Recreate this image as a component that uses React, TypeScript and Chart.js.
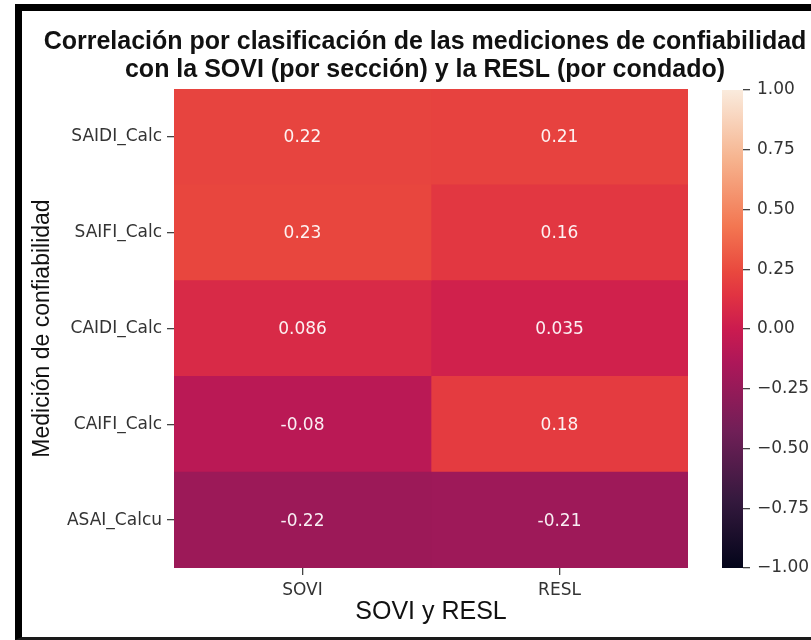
import React, { useEffect, useRef } from "react";
import { Chart, registerables } from "chart.js";

Chart.register(...registerables);

// ---------- data ----------
const titleLines = [
  "Correlación por clasificación de las mediciones de confiabilidad",
  "con la SOVI (por sección) y la RESL (por condado)",
];
const rowLabels = ["SAIDI_Calc", "SAIFI_Calc", "CAIDI_Calc", "CAIFI_Calc", "ASAI_Calcu"];
const colLabels = ["SOVI", "RESL"];
const soviValues = [0.22, 0.23, 0.086, -0.08, -0.22];
const reslValues = [0.21, 0.16, 0.035, 0.18, -0.21];
const xAxisTitle = "SOVI y RESL";
const yAxisTitle = "Medición de confiabilidad";
const colorbarMin = -1;
const colorbarMax = 1;
const colorbarStep = 0.25;

// rocket colormap anchors (position 0..1, hex)
const rocketPos = [0, 0.143, 0.286, 0.429, 0.5, 0.571, 0.62, 0.714, 0.857, 1];
const rocketHex = ["#03051a", "#35193e", "#701f57", "#ad1759", "#cb1b4f", "#e13342", "#e9483e", "#f37651", "#f6b48f", "#faebdd"];

function hexToRgb(h: string) {
  const n = parseInt(h.slice(1), 16);
  return [(n >> 16) & 255, (n >> 8) & 255, n & 255];
}
function rocket(t: number) {
  t = Math.max(0, Math.min(1, t));
  let i = 0;
  while (i < rocketPos.length - 2 && t > rocketPos[i + 1]) i++;
  const f = (t - rocketPos[i]) / (rocketPos[i + 1] - rocketPos[i]);
  const a = hexToRgb(rocketHex[i]);
  const b = hexToRgb(rocketHex[i + 1]);
  const c = a.map((v, k) => Math.round(v + (b[k] - v) * f));
  return `rgb(${c[0]},${c[1]},${c[2]})`;
}
function valueColor(v: number) {
  return rocket((v - colorbarMin) / (colorbarMax - colorbarMin));
}
function fmt2g(v: number) {
  return String(parseFloat(v.toPrecision(2)));
}

const TICK_FONT = { family: "'DejaVu Sans'", size: 17 };
const TICK_COLOR = "#333333";

const annotatePlugin = {
  id: "annotate",
  afterDatasetsDraw(chart: any) {
    const ctx = chart.ctx;
    ctx.save();
    ctx.font = "17px 'DejaVu Sans'";
    ctx.fillStyle = "rgba(255,255,255,0.93)";
    ctx.textAlign = "center";
    ctx.textBaseline = "middle";
    chart.data.datasets.forEach((ds: any, di: number) => {
      const meta = chart.getDatasetMeta(di);
      meta.data.forEach((bar: any, j: number) => {
        const p = bar.getProps(["x", "y", "base"], true);
        ctx.fillText(fmt2g(ds.values[j]), (p.x + p.base) / 2, p.y + 1);
      });
    });
    ctx.restore();
  },
};

export default function App() {
  const mainRef = useRef<HTMLCanvasElement>(null);
  const cbRef = useRef<HTMLCanvasElement>(null);

  useEffect(() => {
    const columns = [soviValues, reslValues];
    const main = new Chart(mainRef.current!, {
      type: "bar",
      data: {
        labels: rowLabels,
        datasets: columns.map((vals, ci) => ({
          label: colLabels[ci],
          values: vals,
          data: vals.map(() => [ci, ci + 1]),
          backgroundColor: vals.map(valueColor),
          borderWidth: 0,
          barPercentage: 1,
          categoryPercentage: 1,
          grouped: false,
        })) as any,
      },
      options: {
        indexAxis: "y",
        animation: false,
        responsive: false,
        events: [],
        layout: { padding: { left: 22, right: 0, top: 11, bottom: 8 } },
        plugins: {
          legend: { display: false },
          tooltip: { enabled: false },
          title: {
            display: true,
            text: titleLines,
            color: "#111111",
            font: { family: "'Liberation Sans', Arial, sans-serif", size: 25, weight: "bold", lineHeight: 1.12 },
            padding: { top: 17, bottom: 5 },
          },
        },
        scales: {
          x: {
            type: "linear",
            position: "bottom",
            min: 0,
            max: colLabels.length,
            afterBuildTicks: (s: any) => {
              s.ticks = colLabels.map((_, i) => ({ value: i + 0.5 }));
            },
            afterFit: (s: any) => {
              s.height = 64;
            },
            ticks: {
              autoSkip: false,
              maxRotation: 0,
              font: TICK_FONT,
              color: TICK_COLOR,
              padding: 5,
              callback: (_v: any, i: number) => colLabels[i],
            },
            grid: { drawOnChartArea: false, drawTicks: true, tickLength: 7, color: "#444444", lineWidth: 1.3 },
            border: { display: false },
            title: {
              display: true,
              text: xAxisTitle,
              color: "#111111",
              font: { family: "'Liberation Sans', Arial, sans-serif", size: 25, lineHeight: 1.2 },
              padding: { top: 0, bottom: 5 },
            },
          },
          y: {
            type: "category",
            position: "left",
            afterFit: (s: any) => {
              s.width = 152;
            },
            ticks: { font: TICK_FONT, color: TICK_COLOR, padding: 5 },
            grid: { drawOnChartArea: false, drawTicks: true, tickLength: 7, offset: false, color: "#444444", lineWidth: 1.3 },
            border: { display: false },
            title: {
              display: true,
              text: yAxisTitle,
              color: "#111111",
              font: { family: "'Liberation Sans', Arial, sans-serif", size: 23, lineHeight: 1.2 },
              padding: { top: 7, bottom: 0 },
            },
          },
          rpad: {
            type: "linear",
            position: "right",
            display: true,
            ticks: { display: false },
            grid: { display: false },
            border: { display: false },
            afterFit: (s: any) => {
              s.width = 140;
            },
          },
        },
      } as any,
      plugins: [annotatePlugin],
    });

    const cb = new Chart(cbRef.current!, {
      type: "bar",
      data: {
        labels: [""],
        datasets: [
          {
            data: [[colorbarMin, colorbarMax]] as any,
            borderWidth: 0,
            barPercentage: 1,
            categoryPercentage: 1,
            backgroundColor: (c: any) => {
              const chart = c.chart;
              const ys = chart.scales.y;
              if (!chart.chartArea || !ys) return "#000";
              const y0 = ys.getPixelForValue(colorbarMin);
              const y1 = ys.getPixelForValue(colorbarMax);
              const g = chart.ctx.createLinearGradient(0, y0, 0, y1);
              rocketPos.forEach((p, i) => g.addColorStop(p, rocketHex[i]));
              return g;
            },
          },
        ],
      },
      options: {
        animation: false,
        responsive: false,
        events: [],
        layout: { padding: { left: 22, right: 0, top: 90, bottom: 72 } },
        plugins: { legend: { display: false }, tooltip: { enabled: false } },
        scales: {
          x: { display: false },
          y: {
            position: "right",
            min: colorbarMin,
            max: colorbarMax,
            afterFit: (s: any) => {
              s.width = 85;
            },
            ticks: {
              stepSize: colorbarStep,
              font: TICK_FONT,
              color: TICK_COLOR,
              padding: 7,
              callback: (v: any) => Number(v).toFixed(2).replace("-", "\u2212"),
            },
            grid: { drawOnChartArea: false, drawTicks: true, tickLength: 7, color: "#444444", lineWidth: 1.3 },
            border: { display: false },
          },
        },
      } as any,
    });

    return () => {
      main.destroy();
      cb.destroy();
    };
  }, []);

  return (
    <div
      style={{
        position: "absolute",
        left: 0,
        top: 0,
        width: 811,
        height: 640,
        overflow: "hidden",
        background: "#ffffff",
      }}
    >
      <div
        style={{
          position: "absolute",
          left: 15,
          top: 4,
          width: 900,
          height: 636,
          boxSizing: "border-box",
          borderLeft: "7px solid #000",
          borderTop: "7px solid #000",
          borderBottom: "3px solid #1a1a1a",
        }}
      />
      <canvas
        ref={mainRef}
        width={828}
        height={640}
        style={{ position: "absolute", left: 0, top: 0, width: 828, height: 640 }}
      />
      <canvas
        ref={cbRef}
        width={128}
        height={640}
        style={{ position: "absolute", left: 700, top: 0, width: 128, height: 640 }}
      />
    </div>
  );
}
